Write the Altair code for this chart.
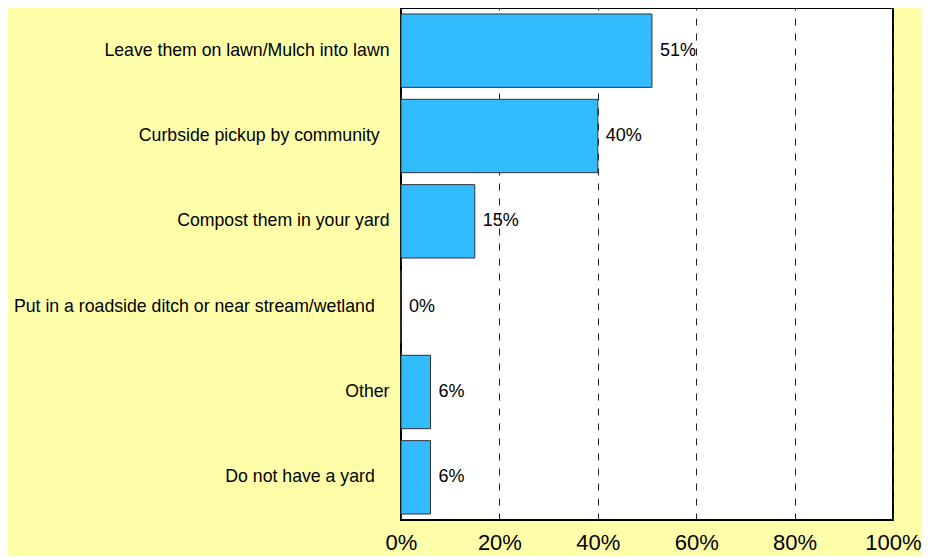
import altair as alt
import pandas as pd

# trailing non-breaking spaces kept visible by a final zero-width char
categories = [
    "Leave them on lawn/Mulch into lawn",
    "Curbside pickup by community\u00a0\u00a0\u200b",
    "Compost them in your yard",
    "Put in a roadside ditch or near stream/wetland\u00a0\u00a0\u00a0\u200b",
    "Other",
    "Do not have a yard\u00a0\u00a0\u00a0\u200b",
]
values = [51, 40, 15, 0, 6, 6]
labels = ["51%", "40%", "15%", "0%", "6%", "6%"]
x_ticks = [0, 20, 40, 60, 80, 100]

df = pd.DataFrame({"cat": categories, "val": values, "lab": labels})

FONT = "Liberation Sans"

y_enc = alt.Y(
    "cat:N",
    sort=categories,
    scale=alt.Scale(paddingInner=0.14, paddingOuter=0.07),
    axis=alt.Axis(
        title=None,
        ticks=False,
        domain=False,
        labelPadding=12,
        labelFontSize=17.7,
        labelFont=FONT,
        labelColor="#000000",
        labelLimit=500,
    ),
)

x_enc = alt.X(
    "val:Q",
    scale=alt.Scale(domain=[0, 100], nice=False),
    axis=alt.Axis(
        title=None,
        values=x_ticks,
        labelExpr="datum.value + '%'",
        ticks=False,
        domain=False,
        grid=True,
        gridColor="#222222",
        gridDash=[7, 8],
        gridWidth=1,
        labelFontSize=22,
        labelFont=FONT,
        labelColor="#000000",
        labelPadding=12,
        labelFlush=False,
    ),
)

bars = alt.Chart(df).mark_bar(
    color="#33BBFF", stroke="#333333", strokeWidth=1
).encode(x=x_enc, y=y_enc)

text = alt.Chart(df).mark_text(
    align="left", baseline="middle", dx=8, fontSize=18, font=FONT, color="#000000"
).encode(
    x=alt.X("val:Q"),
    y=alt.Y("cat:N", sort=categories),
    text="lab:N",
)

chart = (
    alt.layer(bars, text)
    .properties(
        width=492,
        height=512,
        background="#FFFFAA",
        autosize=alt.AutoSizeParams(type="none"),
        padding={"left": 393, "top": 0, "right": 29, "bottom": 36},
    )
    .configure_view(stroke="#000000", strokeWidth=2, fill="#FFFFFF")
)

chart.save("out.html", embed_options={"renderer": "svg", "actions": False})
